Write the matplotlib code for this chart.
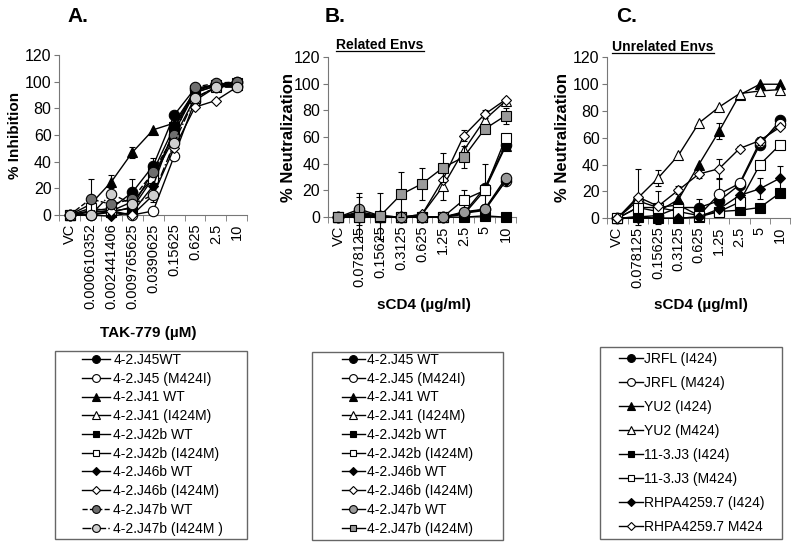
import matplotlib
matplotlib.use("Agg")
import matplotlib.pyplot as plt
from matplotlib.lines import Line2D
from matplotlib.patches import Rectangle
import numpy as np

plt.rcParams['font.family'] = ['Liberation Sans', 'DejaVu Sans']

# ---- panel A : TAK-779 inhibition ----
a_doses = ['VC', '0.000610352', '0.002441406', '0.009765625', '0.0390625',
           '0.15625', '0.625', '2.5', '10']
a_names = ['4-2.J45WT', '4-2.J45 (M424I)', '4-2.J41 WT', '4-2.J41 (I424M)',
           '4-2.J42b WT', '4-2.J42b (I424M)', '4-2.J46b WT', '4-2.J46b (I424M)',
           '4-2.J47b WT', '4-2.J47b (I424M )']
a_vals = [
    [0, 3, 5, 17, 37, 75, 95, 98, 100],
    [0, 0, 2, 0, 3, 44, 86, 96, 97],
    [0, 8, 25, 47, 64, 69, 93, 98, 99],
    [0, 2, 3, 5, 28, 62, 92, 97, 98],
    [0, 3, 2, 6, 33, 66, 94, 98, 99],
    [0, 5, 3, 10, 28, 58, 88, 96, 98],
    [0, 0, -1, 2, 22, 65, 92, 97, 99],
    [0, 0, 3, 0, 15, 50, 81, 86, 96],
    [0, 12, 8, 12, 32, 60, 96, 99, 100],
    [0, 0, 16, 8, 15, 54, 88, 96, 96],
]
a_errs = [
    [0, 0, 0, 10, 6, 0, 0, 0, 0],
    [0, 0, 0, 0, 0, 0, 0, 0, 0],
    [0, 0, 5, 4, 0, 0, 0, 0, 0],
    [0, 0, 0, 0, 0, 0, 0, 0, 0],
    [0, 0, 0, 0, 0, 0, 0, 0, 0],
    [0, 5, 0, 0, 0, 0, 0, 0, 0],
    [0, 0, 0, 0, 0, 0, 0, 0, 0],
    [0, 0, 0, 0, 0, 0, 0, 0, 0],
    [0, 15, 0, 0, 0, 0, 0, 0, 0],
    [0, 0, 0, 0, 5, 0, 0, 0, 0],
]

# ---- panel B : sCD4, related envs ----
b_doses = ['VC', '0.078125', '0.15625', '0.3125', '0.625', '1.25', '2.5', '5', '10']
b_names = ['4-2.J45 WT', '4-2.J45 (M424I)', '4-2.J41 WT', '4-2.J41 (I424M)',
           '4-2.J42b WT', '4-2.J42b (I424M)', '4-2.J46b WT', '4-2.J46b (I424M)',
           '4-2.J47b WT', '4-2.J47b (I424M)']
b_vals = [
    [0, 0, 0, 0, 0, 0, 3, 22, 54],
    [0, 4, 1, 0, 0, 0, 3, 6, 27],
    [0, 2, 0, 0, 0, 0, 2, 20, 53],
    [0, 3, 0, 0, 2, 23, 50, 73, 87],
    [0, 0, 0, 0, 0, 0, 0, 1, 0],
    [0, 3, 0, 0, 0, 0, 13, 20, 59],
    [0, 3, 0, 0, 0, 0, 3, 5, 27],
    [0, 1, 1, 0, 2, 28, 61, 77, 88],
    [0, 6, 1, 0, 0, 0, 4, 6, 29],
    [0, 0, 1, 17, 25, 37, 45, 66, 76],
]
b_errs = [
    [0, 0, 0, 0, 0, 0, 0, 0, 0],
    [0, 0, 0, 0, 0, 0, 0, 0, 0],
    [0, 0, 0, 0, 0, 0, 0, 0, 0],
    [0, 0, 0, 0, 0, 10, 0, 0, 0],
    [0, 0, 0, 0, 0, 0, 0, 0, 0],
    [0, 0, 0, 0, 0, 0, 7, 20, 0],
    [0, 0, 0, 0, 0, 0, 0, 0, 0],
    [0, 0, 0, 0, 0, 0, 4, 3, 0],
    [0, 12, 0, 0, 0, 0, 0, 0, 0],
    [0, 15, 17, 17, 12, 11, 8, 0, 6],
]

# ---- panel C : sCD4, unrelated envs ----
c_doses = ['VC', '0.078125', '0.15625', '0.3125', '0.625', '1.25', '2.5', '5', '10']
c_names = ['JRFL (I424)', 'JRFL (M424)', 'YU2 (I424)', 'YU2 (M424)',
           '11-3.J3 (I424)', '11-3.J3 (M424)', 'RHPA4259.7 (I424)', 'RHPA4259.7 M424']
c_vals = [
    [0, 1, 2, 8, 8, 13, 25, 55, 73],
    [0, 13, 8, 10, 2, 18, 26, 57, 70],
    [0, 8, 5, 14, 40, 65, 92, 100, 100],
    [0, 15, 30, 47, 71, 83, 93, 95, 96],
    [0, 1, 0, 0, 1, 5, 6, 8, 19],
    [0, 8, 8, 5, 2, 5, 12, 40, 55],
    [0, 0, 0, 0, 1, 7, 17, 22, 30],
    [0, 16, 9, 21, 33, 37, 52, 58, 68],
]
c_errs = [
    [0, 0, 0, 0, 6, 0, 0, 0, 0],
    [0, 0, 0, 0, 0, 11, 0, 0, 0],
    [0, 0, 0, 0, 0, 6, 0, 0, 0],
    [0, 0, 6, 0, 0, 0, 0, 0, 0],
    [0, 0, 0, 0, 0, 0, 0, 0, 0],
    [0, 0, 12, 0, 0, 0, 0, 0, 0],
    [0, 0, 0, 0, 0, 0, 0, 8, 9],
    [0, 21, 0, 3, 3, 7, 2, 3, 0],
]

# marker, face colour, linestyle
ab_styles = [('o', 'black', '-'), ('o', 'white', '-'), ('^', 'black', '-'),
             ('^', 'white', '-'), ('s', 'black', '-'), ('s', 'white', '-'),
             ('D', 'black', '-'), ('D', 'white', '-')]
a_styles = ab_styles + [('o', '#6e6e6e', '--'), ('o', '#cfcfcf', '-.')]
b_styles = ab_styles + [('o', '#9a9a9a', '-'), ('s', '#9a9a9a', '-')]
c_styles = ab_styles
msize = {'o': 7.5, '^': 7, 's': 6.5, 'D': 5.5}

fig = plt.figure(figsize=(8, 5.47), dpi=100)


def draw_panel(rect, doses, vals, errs, styles, ylabel, ylab_x, ylab_size):
    ax = fig.add_axes(rect)
    x = np.arange(len(doses))
    handles = []
    for i, (v, e, st) in enumerate(zip(vals, errs, styles)):
        m, fc, ls = st
        e = np.array(e)
        keep = e > 0
        if keep.any():
            ax.errorbar(x[keep], np.array(v)[keep], yerr=e[keep], fmt='none',
                        ecolor='black', elinewidth=0.8, capsize=2.5, capthick=0.8,
                        clip_on=False, zorder=2 + i)
        line, = ax.plot(x, v, color='black', lw=1, ls=ls, marker=m, mfc=fc,
                        mec='black', mew=0.8, ms=msize[m], clip_on=False, zorder=3 + i)
        handles.append(line)
    ax.set_xlim(-0.5, len(doses) - 0.5)
    ax.set_ylim(0, 120)
    ax.set_yticks(range(0, 121, 20))
    ax.set_xticks(x)
    ax.set_xticklabels(doses, rotation=90, fontsize=10.5)
    ax.set_xticks(np.arange(-0.5, len(doses)), minor=True)
    ax.tick_params(axis='x', which='major', length=0, pad=6)
    ax.tick_params(axis='x', which='minor', length=4, color='#777777', direction='out')
    ax.tick_params(axis='y', length=3.5, pad=2, labelsize=11.5, color='#777777')
    for s in ['top', 'right']:
        ax.spines[s].set_visible(False)
    for s in ['left', 'bottom']:
        ax.spines[s].set_color('#777777')
    ax.set_ylabel(ylabel, fontsize=ylab_size, weight='bold')
    ax.yaxis.set_label_coords(ylab_x, 0.5)
    return handles


h_a = draw_panel([0.074, 0.607, 0.235, 0.292], a_doses, a_vals, a_errs, a_styles,
                 '% Inhibition', -0.197, 11)
h_b = draw_panel([0.41, 0.603, 0.235, 0.293], b_doses, b_vals, b_errs, b_styles,
                 '% Neutralization', -0.17, 12)
h_c = draw_panel([0.759, 0.601, 0.229, 0.294], c_doses, c_vals, c_errs, c_styles,
                 '% Neutralization', -0.202, 12)

# panel letters and axis titles
for xp, letter in [(78, 'A.'), (335, 'B.'), (627, 'C.')]:
    fig.text(xp / 800, 1 - 16 / 547, letter, ha='center', va='center',
             fontsize=15, weight='bold')
fig.text(148 / 800, 1 - 333 / 547, 'TAK-779 (µM)', ha='center', va='center',
         fontsize=11, weight='bold')
fig.text(424 / 800, 1 - 305 / 547, 'sCD4 (µg/ml)', ha='center', va='center',
         fontsize=11, weight='bold')
fig.text(701 / 800, 1 - 305 / 547, 'sCD4 (µg/ml)', ha='center', va='center',
         fontsize=11, weight='bold')

subs = [fig.text(380 / 800, 1 - 45 / 547, 'Related Envs', ha='center', va='center',
                 fontsize=10, weight='bold'),
        fig.text(663 / 800, 1 - 47 / 547, 'Unrelated Envs', ha='center', va='center',
                 fontsize=10, weight='bold')]
fig.canvas.draw()
inv = fig.transFigure.inverted()
for t in subs:
    bb = t.get_window_extent().transformed(inv)
    fig.add_artist(Line2D([bb.x0, bb.x1], [bb.y0 + 0.002, bb.y0 + 0.002],
                          transform=fig.transFigure, color='black', lw=0.9))

# legends with their boxes
boxes = [(55, 351, 247, 539), (312, 352, 503, 540), (600, 347, 782, 539)]
for x0, y0, x1, y1 in boxes:
    fig.add_artist(Rectangle((x0 / 800, 1 - y1 / 547), (x1 - x0) / 800, (y1 - y0) / 547,
                             transform=fig.transFigure, fill=False,
                             ec='#666666', lw=1))

leg_opts = dict(loc='upper left', frameon=False, fontsize=10, borderpad=0,
                borderaxespad=0, markerscale=0.75)
fig.legend(h_a, a_names, bbox_to_anchor=(82 / 800, 1 - 353 / 547),
           handlelength=2.0, handletextpad=0.25, labelspacing=0.34, **leg_opts)
fig.legend(h_b, b_names, bbox_to_anchor=(342 / 800, 1 - 353 / 547),
           handlelength=1.65, handletextpad=0.15, labelspacing=0.34, **leg_opts)
fig.legend(h_c, c_names, bbox_to_anchor=(619 / 800, 1 - 352 / 547),
           handlelength=1.7, handletextpad=0.1, labelspacing=0.72, **leg_opts)

fig.savefig('out.png', dpi=100)
